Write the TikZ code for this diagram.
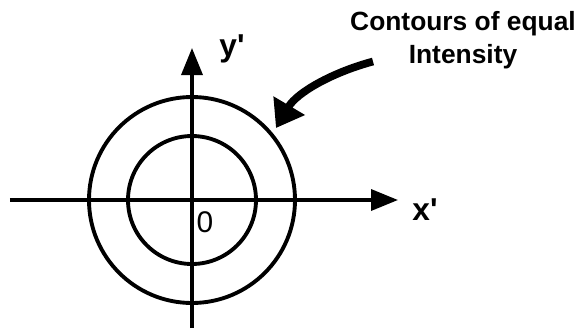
\documentclass[tikz,border=0pt]{standalone}
\usepackage{fontspec}
\setmainfont{Liberation Sans}
\usetikzlibrary{arrows.meta}

\begin{document}
\begin{tikzpicture}[>=latex, font=\fontsize{14}{18}\selectfont]

% --- DEFINITIONS ---
\def\outerR{2.06}  % radius of the outer contour
\def\innerR{1.28}  % radius of the inner contour
\def\prm{\textquotesingle}
\tikzset{
  axis/.style={line width=2pt, -{Triangle[length=5.4mm, width=4.2mm]}},
  contour/.style={line width=2.2pt},
  pointer/.style={line width=4.4pt, -{Triangle[length=5.2mm, width=7mm]}},
  axislabel/.style={font=\bfseries\fontsize{18}{20}\selectfont}
}

% fixed frame (580 x 333)
\useasboundingbox (-3.84,-2.66) rectangle (7.76,4.0);

% --- 1. CONTOURS ---
\draw[contour] (0,0) circle (\outerR);
\draw[contour] (0,0) circle (\innerR);

% --- 2. AXES ---
\coordinate (xstart) at (-3.64,0);
\coordinate (xend) at (4.12,0);
\coordinate (ystart) at (0,-2.56);
\coordinate (yend) at (0,3.04);
\draw[axis] (xstart) -- (xend);
\draw[axis] (ystart) -- (yend);

\node[axislabel] (xlabel) at (4.66,-0.2) {x\prm};
\node[axislabel] (ylabel) at (0.8,3.02) {y\prm};
\node[font=\fontsize{17}{20}\selectfont] (origin) at (0.26,-0.44) {0};

% --- 3. LABEL AND POINTER ---
\node[align=center, font=\bfseries\fontsize{15}{18.5}\selectfont] (contours) at (5.42,3.2)
  {Contours of equal\\Intensity};
\coordinate (tail) at (3.62,2.77);
\coordinate (tip) at (1.68,1.44);
\draw[pointer] (tail) .. controls (2.8,2.55) and (2.1,2.15) .. (tip);

\end{tikzpicture}
\end{document}
